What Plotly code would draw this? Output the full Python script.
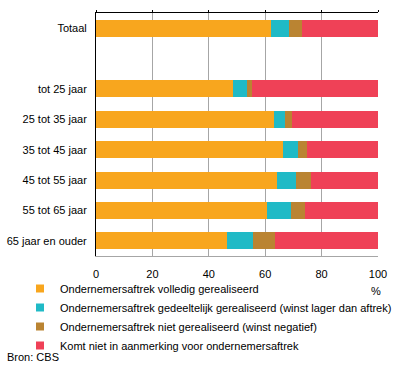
import plotly.graph_objects as go

categories = ["Totaal", "", "tot 25 jaar", "25 tot 35 jaar", "35 tot 45 jaar",
              "45 tot 55 jaar", "55 tot 65 jaar", "65 jaar en ouder"]
volledig = [62.1, None, 48.6, 63.1, 66.3, 64.2, 60.6, 46.5]
gedeeltelijk = [6.5, None, 5.0, 4.0, 5.2, 6.6, 8.5, 9.2]
niet = [4.4, None, 1.7, 2.4, 3.3, 5.4, 5.0, 7.8]
komt_niet = [27.0, None, 44.7, 30.5, 25.2, 23.8, 25.9, 36.5]

series_names = [
    "Ondernemersaftrek volledig gerealiseerd",
    "Ondernemersaftrek gedeeltelijk gerealiseerd (winst lager dan aftrek)",
    "Ondernemersaftrek niet gerealiseerd (winst negatief)",
    "Komt niet in aanmerking voor ondernemersaftrek",
]
series_values = [volledig, gedeeltelijk, niet, komt_niet]
colors = ["#F8A61E", "#20BAC6", "#BA8432", "#EF4157"]
x_ticks = [0, 20, 40, 60, 80, 100]

FONT = "Liberation Sans, Arial, sans-serif"
positions = list(range(len(categories)))

W, H = 396, 368
ML, MR, MT, MB = 96, 18, 13, 112
plot_w = W - ML - MR
plot_h = H - MT - MB


def px_to_paper(px, py):
    return (px - ML) / plot_w, (H - MB - py) / plot_h


fig = go.Figure()
for name, vals, col in zip(series_names, series_values, colors):
    fig.add_trace(go.Bar(
        y=positions, x=vals, orientation="h", name=name,
        marker=dict(color=col, line=dict(width=0)),
        width=0.56, showlegend=False, hoverinfo="x+name",
    ))
for name, col in zip(series_names, colors):
    fig.add_trace(go.Scatter(
        x=[None], y=[None], mode="markers", name=name,
        marker=dict(symbol="square", size=8, color=col),
        showlegend=True,
    ))

# invisible trace so the top axis is drawn
fig.add_trace(go.Scatter(x=[50], y=[1], xaxis="x2", yaxis="y", mode="markers",
                         marker=dict(opacity=0), showlegend=False,
                         hoverinfo="skip"))

lx, ly = px_to_paper(20, 274)
ax, ay = px_to_paper(376, 291)
bx, by = px_to_paper(5, 357)

fig.update_layout(
    width=W, height=H,
    margin=dict(l=ML, r=MR, t=MT, b=MB, autoexpand=False),
    paper_bgcolor="white", plot_bgcolor="white",
    barmode="stack", bargap=0,
    font=dict(family=FONT, size=11, color="black"),
    xaxis=dict(
        range=[0, 100], tickvals=x_ticks, ticktext=[str(v) for v in x_ticks],
        showgrid=True, gridcolor="#A6A6A6", gridwidth=1,
        showline=True, linecolor="#A6A6A6", linewidth=1,
        zeroline=False, ticks="", ticklabelstandoff=8,
        tickfont=dict(size=11, family=FONT),
    ),
    xaxis2=dict(
        overlaying="x", anchor="y", side="top", range=[0, 100],
        tickvals=x_ticks,
        showticklabels=False, showgrid=False, zeroline=False,
        showline=True, linecolor="black", linewidth=1,
        ticks="outside", ticklen=2, tickcolor="black",
    ),
    yaxis=dict(
        range=[7.5, -0.5], tickvals=positions, ticktext=categories,
        showgrid=False, zeroline=False,
        showline=True, linecolor="black", linewidth=1,
        ticks="", ticklabelstandoff=6,
        tickfont=dict(size=11, family=FONT),
    ),
    legend=dict(
        x=lx, xanchor="left", y=ly, yanchor="top",
        orientation="v", itemwidth=30, tracegroupgap=0, traceorder="normal",
        font=dict(size=11, family=FONT),
        bgcolor="rgba(0,0,0,0)", itemclick=False,
    ),
    annotations=[
        dict(text="%", x=ax, y=ay, xref="paper", yref="paper",
             xanchor="center", yanchor="middle", showarrow=False),
        dict(text="Bron: CBS", x=bx, y=by, xref="paper", yref="paper",
             xanchor="left", yanchor="middle", showarrow=False),
    ],
)

fig.write_html("out.html", config={"displayModeBar": False},
               post_script="document.body.style.margin='0';")
